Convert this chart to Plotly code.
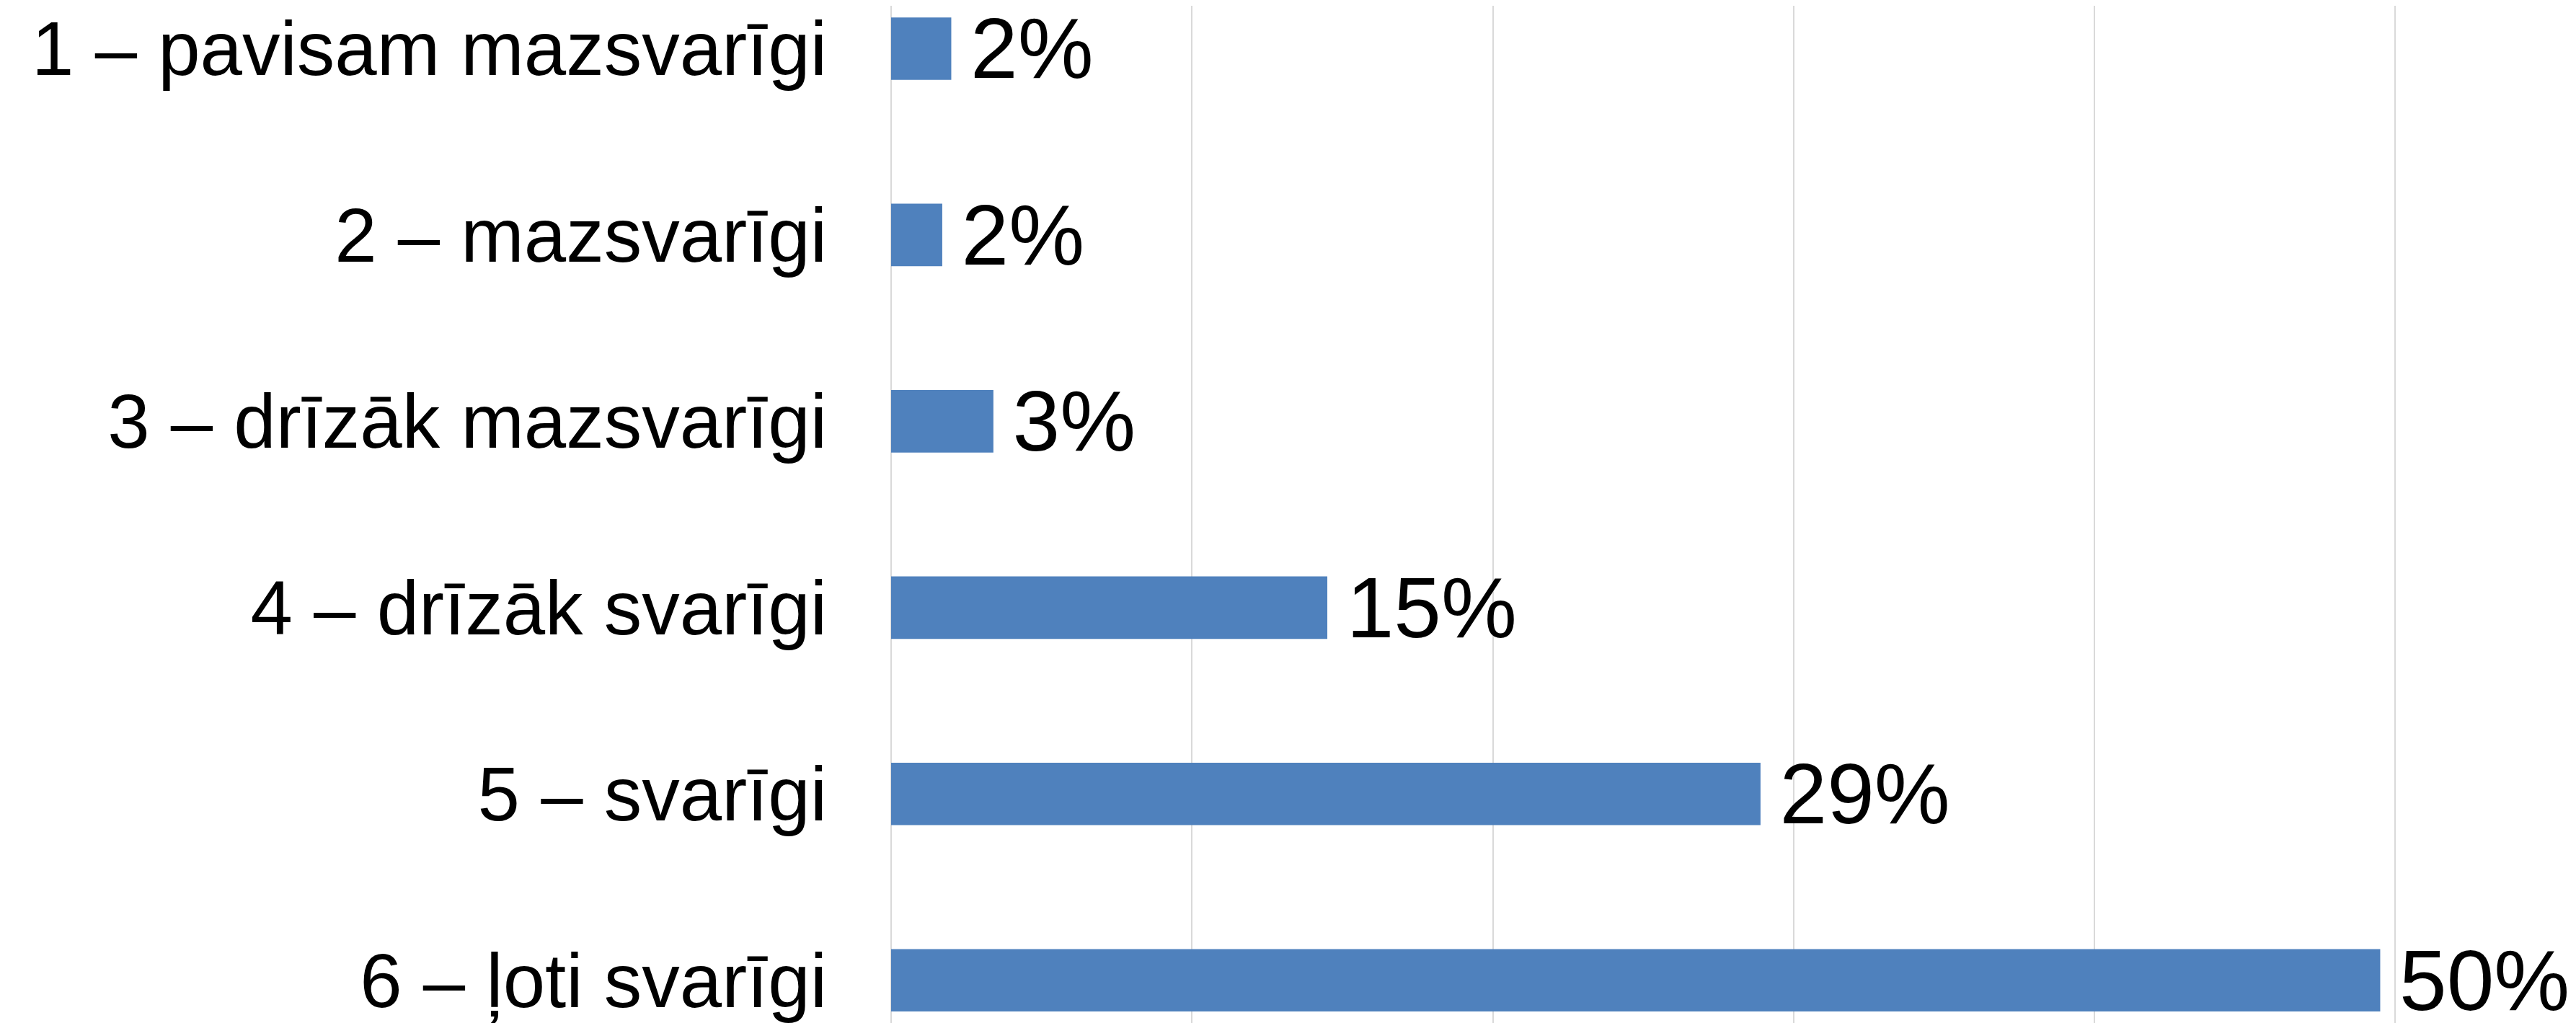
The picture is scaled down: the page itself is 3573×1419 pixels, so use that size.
import plotly.graph_objects as go

categories = [
    "1 – pavisam mazsvarīgi",
    "2 – mazsvarīgi",
    "3 – drīzāk mazsvarīgi",
    "4 – drīzāk svarīgi",
    "5 – svarīgi",
    "6 – ļoti svarīgi",
]
values = [2.0, 1.7, 3.4, 14.5, 28.9, 49.5]
labels = ["2%", "2%", "3%", "15%", "29%", "50%"]

FONT = "Liberation Sans, Arial, sans-serif"

fig = go.Figure(
    go.Bar(
        y=categories,
        x=values,
        orientation="h",
        marker=dict(color="#4F81BD", line=dict(width=0)),
        text=["\u2009" + t for t in labels],
        textposition="outside",
        constraintext="none",
        cliponaxis=False,
        outsidetextfont=dict(family=FONT, size=118, color="#000000"),
        hoverinfo="skip",
    )
)

fig.update_layout(
    width=3573,
    height=1419,
    margin=dict(l=1228, r=0, t=0, b=0),
    paper_bgcolor="white",
    plot_bgcolor="white",
    bargap=0.665,
    showlegend=False,
    font=dict(family=FONT, color="#000000"),
)

fig.update_xaxes(
    range=[0, 56.2],
    dtick=10,
    showticklabels=False,
    showgrid=True,
    gridcolor="#D9D9D9",
    gridwidth=1.5,
    zeroline=True,
    zerolinecolor="#D9D9D9",
    zerolinewidth=1.5,
    showline=False,
    ticks="",
)

fig.update_yaxes(
    type="category",
    categoryorder="array",
    categoryarray=categories,
    range=[5.26, -0.23],
    showgrid=False,
    zeroline=False,
    showline=False,
    ticks="",
    ticklabelstandoff=88,
    tickfont=dict(family=FONT, size=105, color="#000000"),
)

fig.write_html("out.html")
